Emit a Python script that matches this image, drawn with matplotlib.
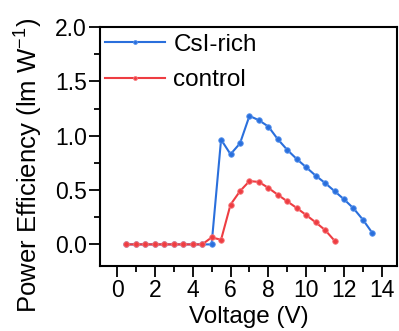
import matplotlib.pyplot as plt
from matplotlib.ticker import MultipleLocator

plt.rcParams['font.family'] = ['Liberation Sans', 'DejaVu Sans']
plt.rcParams['mathtext.fontset'] = 'custom'
plt.rcParams['mathtext.rm'] = 'Liberation Sans'

# voltage (V) and power efficiency (lm/W)
volt_csi = [0.5, 1.0, 1.5, 2.0, 2.5, 3.0, 3.5, 4.0, 4.5, 5.0, 5.5, 6.0, 6.5, 7.0, 7.5,
            8.0, 8.5, 9.0, 9.5, 10.0, 10.5, 11.0, 11.5, 12.0, 12.5, 13.0, 13.5]
pe_csi = [0, 0, 0, 0, 0, 0, 0, 0, 0, 0.0, 0.965, 0.83, 0.93, 1.183, 1.143,
          1.085, 0.968, 0.87, 0.786, 0.71, 0.633, 0.565, 0.49, 0.415, 0.332, 0.227, 0.104]

volt_ctrl = [0.5, 1.0, 1.5, 2.0, 2.5, 3.0, 3.5, 4.0, 4.5, 5.0, 5.5, 6.0, 6.5, 7.0,
             7.5, 8.0, 8.5, 9.0, 9.5, 10.0, 10.5, 11.0, 11.5]
pe_ctrl = [0, 0, 0, 0, 0, 0, 0, 0, 0, 0.064, 0.043, 0.366, 0.49, 0.583,
           0.575, 0.52, 0.457, 0.396, 0.335, 0.27, 0.203, 0.132, 0.034]

blue = '#2a6fdc'
red = '#ee3d42'

fig = plt.figure(figsize=(3.99, 3.31), dpi=100)
ax = fig.add_axes([0.2506, 0.196, 0.7444, 0.722])

ax.plot(volt_csi, pe_csi, color=blue, linewidth=1.5, marker='o', markersize=4,
        markeredgecolor='#5a95ee', markeredgewidth=0.6, label='CsI-rich')
ax.plot(volt_ctrl, pe_ctrl, color=red, linewidth=1.5, marker='o', markersize=4,
        markeredgecolor='#f77a7e', markeredgewidth=0.6, label='control')

ax.set_xlim(-0.9, 14.8)
ax.set_ylim(-0.2, 2.0)
ax.xaxis.set_major_locator(MultipleLocator(2))
ax.xaxis.set_minor_locator(MultipleLocator(1))
ax.yaxis.set_major_locator(MultipleLocator(0.5))
ax.yaxis.set_minor_locator(MultipleLocator(0.25))
ax.tick_params(which='major', direction='out', length=8, width=1.3, labelsize=16.5, pad=1.5)
ax.tick_params(which='minor', direction='out', length=4.5, width=1.3)
for s in ax.spines.values():
    s.set_linewidth(1.5)

ax.set_xlabel('Voltage (V)', fontsize=17.5)
ax.xaxis.set_label_coords(0.5, -0.168)
ax.set_ylabel('Power Efficiency (lm W$^{\\mathrm{-1}}$)', fontsize=18.5)
ax.yaxis.set_label_coords(-0.19, 0.42)

leg = ax.legend(loc='upper left', bbox_to_anchor=(0.01, 0.983), frameon=False,
                fontsize=17.5, handlelength=2.45, handletextpad=0.35,
                borderpad=0.1, borderaxespad=0.0, labelspacing=0.55,
                markerscale=0.7)

fig.savefig('out.png', dpi=100)
